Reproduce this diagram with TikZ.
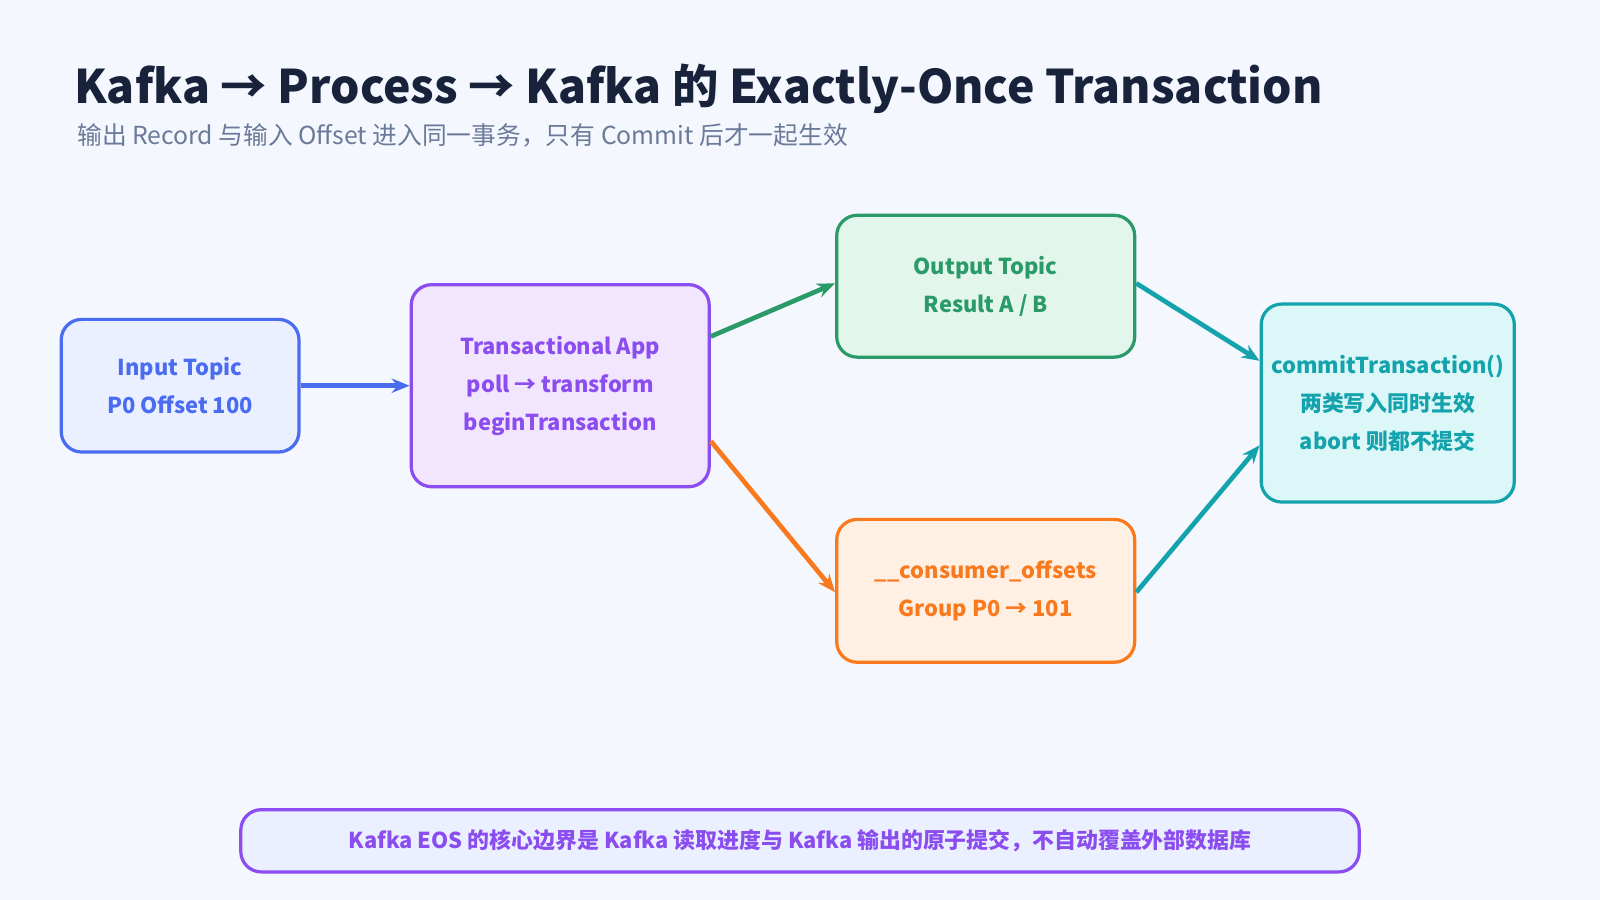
\documentclass[tikz,border=0pt]{standalone}
\usepackage{fontspec}
\setmainfont{Noto Sans CJK SC}
\usetikzlibrary{calc,arrows.meta}
\definecolor{bg}{HTML}{F4F7FE}
\definecolor{cb}{HTML}{4A6CF0}\definecolor{fb}{HTML}{EAF0FF}
\definecolor{cp}{HTML}{8B4CF0}\definecolor{fp}{HTML}{F1E6FE}
\definecolor{cg}{HTML}{2A9A68}\definecolor{fg}{HTML}{E3F6EC}
\definecolor{co}{HTML}{F97A1E}\definecolor{fo}{HTML}{FFF0E3}
\definecolor{ct}{HTML}{14A3AD}\definecolor{ft}{HTML}{DCF7F7}
\definecolor{tt}{HTML}{18223A}\definecolor{st}{HTML}{6B7A99}
\begin{document}
\begin{tikzpicture}[x=0.01cm,y=-0.01cm,
 box/.style={line width=0.9pt,rounded corners=0.2cm,align=center,inner sep=0pt,
   font=\fontsize{6.1}{10.6}\selectfont\bfseries},
 arr/.style={line width=1.3pt,-{Stealth[length=5pt,width=4pt]}}]
\useasboundingbox[fill=bg] (0,0) rectangle (1568,882);
\node[anchor=base west,inner sep=0pt,text=tt,font=\fontsize{12.9}{15}\selectfont\bfseries] (title) at (72,101) {Kafka → Process → Kafka 的 Exactly-Once Transaction};
\node[anchor=base west,inner sep=0pt,text=st,font=\fontsize{6.9}{9}\selectfont] (sub) at (75,142) {输出 Record 与输入 Offset 进入同一事务，只有 Commit 后才一起生效};
\node[box,draw=cb,fill=fb,text=cb,minimum width=233*0.01cm,minimum height=130*0.01cm] (in) at (176.5,378) {Input Topic\\P0 Offset 100};
\node[box,draw=cp,fill=fp,text=cp,minimum width=292*0.01cm,minimum height=198*0.01cm] (app) at (549,378) {Transactional App\\poll → transform\\beginTransaction};
\node[box,draw=cg,fill=fg,text=cg,minimum width=292*0.01cm,minimum height=139*0.01cm] (out) at (966,280.5) {Output Topic\\Result A / B};
\node[box,draw=co,fill=fo,text=co,minimum width=292*0.01cm,minimum height=140*0.01cm] (off) at (966,579) {\_\_consumer\_offsets\\Group P0 → 101};
\node[box,draw=ct,fill=ft,text=ct,minimum width=248*0.01cm,minimum height=194*0.01cm] (com) at (1360,395) {commitTransaction()\\两类写入同时生效\\abort 则都不提交};
\node[box,draw=cp,fill=fb,text=cp,minimum width=1096*0.01cm,minimum height=61*0.01cm] (note) at (784,824) {Kafka EOS 的核心边界是 Kafka 读取进度与 Kafka 输出的原子提交，不自动覆盖外部数据库};
\coordinate (a1) at ($(app.north east)!0.26!(app.south east)$);
\coordinate (a2) at ($(app.north east)!0.77!(app.south east)$);
\coordinate (o1) at ($(out.north west)!0.48!(out.south west)$);
\coordinate (o2) at ($(out.north east)!0.48!(out.south east)$);
\coordinate (f1) at ($(off.north west)!0.51!(off.south west)$);
\coordinate (f2) at ($(off.north east)!0.51!(off.south east)$);
\coordinate (c1) at ($(com.north west)!0.29!(com.south west)$);
\coordinate (c2) at ($(com.north west)!0.71!(com.south west)$);
\draw[arr,cb] (in.east) -- (app.west);
\draw[arr,cg] (a1) -- (o1);
\draw[arr,co] (a2) -- (f1);
\draw[arr,ct] (o2) -- (c1);
\draw[arr,ct] (f2) -- (c2);
\end{tikzpicture}
\end{document}
